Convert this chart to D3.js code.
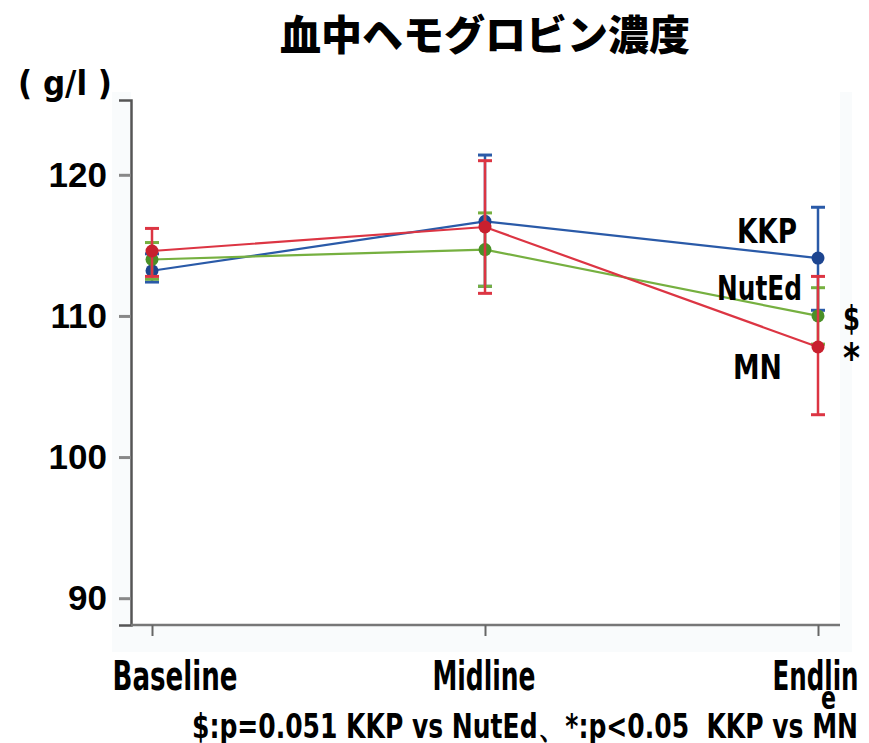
<!DOCTYPE html>
<html>
<head>
<meta charset="utf-8">
<script src="https://cdn.jsdelivr.net/npm/d3@7"></script>
<style>
  body { margin: 0; background: #fff; }
  .narrow { font-family: "DejaVu Sans Condensed", "DejaVu Sans", sans-serif; font-weight: bold; }
</style>
</head>
<body>
<svg class="chart"></svg>
<script>
// time points
var categories = ["Baseline", "Midline", "Endline"];

// group means + error bar ends (g/l)
var kkp     = [113.2, 116.7, 114.1];
var kkpLo   = [112.4, 112.1, 110.4];
var kkpHi   = [114.4, 121.4, 117.7];

var nutEd   = [114.0, 114.7, 110.0];
var nutEdLo = [112.6, 112.1, 108.0];
var nutEdHi = [115.2, 117.3, 112.0];

var mn      = [114.6, 116.3, 107.8];
var mnLo    = [112.8, 111.6, 103.0];
var mnHi    = [116.2, 121.0, 112.8];

var yTicks = [90, 100, 110, 120];

var groups = [
    {name: "KKP",   mean: kkp,   lo: kkpLo,   hi: kkpHi,   line: "#2a5aa8", dot: "#1d4590"},
    {name: "NutEd", mean: nutEd, lo: nutEdLo, hi: nutEdHi, line: "#76b040", dot: "#4a9028"},
    {name: "MN",    mean: mn,    lo: mnLo,    hi: mnHi,    line: "#dc3543", dot: "#c8202e"}
];

const canvas = {width: 869, height: 743};

const chart = d3.select(".chart")
    .attr("width", canvas.width)
    .attr("height", canvas.height);

const x = d3.scalePoint()
    .domain(categories)
    .range([152, 818]);

const y = d3.scaleLinear()
    .domain([88.1, 125.3])
    .range([625, 100]);

// faint panel behind the plot
chart.append("rect")
    .attr("x", 112).attr("y", 92)
    .attr("width", 740).attr("height", 560)
    .attr("fill", "#f9fbfc");
chart.append("rect")
    .attr("x", 131).attr("y", 92)
    .attr("width", 709).attr("height", 533)
    .attr("fill", "#ffffff");

// title
chart.append("text")
    .attr("x", 485).attr("y", 50)
    .attr("text-anchor", "middle")
    .style("font-family", "'Noto Sans CJK JP', sans-serif")
    .style("font-weight", "900")
    .style("font-size", "41px")
    .text("血中ヘモグロビン濃度");

// unit
chart.append("text")
    .attr("class", "narrow")
    .attr("x", 18).attr("y", 95)
    .attr("textLength", 94).attr("lengthAdjust", "spacingAndGlyphs")
    .style("font-size", "34px")
    .text("( g/l )");

// y axis
const yAxis = d3.axisLeft(y).tickValues(yTicks).tickSize(12).tickPadding(12);
const yG = chart.append("g")
    .attr("transform", "translate(131,0)")
    .call(yAxis);
yG.select(".domain").attr("stroke", "#555").attr("stroke-width", 2.5);
yG.selectAll(".tick line").attr("stroke", "#888").attr("stroke-width", 3);
yG.selectAll("text")
    .attr("fill", "#000")
    .style("font-family", "'Liberation Sans', Arial, sans-serif")
    .style("font-weight", "bold")
    .style("font-size", "35px");

// x axis
const xAxis = d3.axisBottom(x).tickSize(11).tickSizeOuter(0);
const xG = chart.append("g")
    .attr("transform", "translate(0,625)")
    .call(xAxis);
xG.select(".domain").attr("d", "M131,0H840").attr("stroke", "#777").attr("stroke-width", 2.5);
xG.selectAll(".tick line").attr("stroke", "#666").attr("stroke-width", 2);

// label placement relative to each tick: offset, width
const xLabelPos = {Baseline: [-40, 125], Midline: [-53, 103], Endline: [-46, 86]};
xG.selectAll("text")
    .attr("class", "narrow")
    .attr("fill", "#000")
    .attr("text-anchor", "start")
    .attr("x", d => xLabelPos[d][0])
    .attr("y", 65)
    .attr("dy", 0)
    .style("font-size", "40px")
    .attr("textLength", d => xLabelPos[d][1])
    .attr("lengthAdjust", "spacingAndGlyphs");
// last label wraps like in the original
xG.selectAll("text").filter(d => d === "Endline")
    .text("Endlin")
    .each(function() {
        d3.select(this.parentNode).append("text")
            .attr("class", "narrow")
            .attr("fill", "#000")
            .attr("x", 10).attr("y", 84)
            .attr("textLength", 15).attr("lengthAdjust", "spacingAndGlyphs")
            .style("font-size", "32px")
            .text("e");
    });

// error bars, lines, dots
const line = d3.line().x((d, i) => x(categories[i])).y(d => y(d));

groups.forEach(function(g) {
    const gg = chart.append("g").attr("class", "group-" + g.name);

    gg.append("path")
        .datum(g.mean)
        .attr("d", line)
        .attr("fill", "none")
        .attr("stroke", g.line)
        .attr("stroke-width", 2.2);

    categories.forEach(function(c, i) {
        const cx = x(c);
        gg.append("line")
            .attr("x1", cx).attr("x2", cx)
            .attr("y1", y(g.lo[i])).attr("y2", y(g.hi[i]))
            .attr("stroke", g.line).attr("stroke-width", 2.5);
        [g.lo[i], g.hi[i]].forEach(function(v) {
            gg.append("line")
                .attr("x1", cx - 7).attr("x2", cx + 7)
                .attr("y1", y(v)).attr("y2", y(v))
                .attr("stroke", g.line).attr("stroke-width", 3);
        });
    });

    gg.selectAll("circle")
        .data(g.mean)
        .enter().append("circle")
        .attr("cx", (d, i) => x(categories[i]))
        .attr("cy", d => y(d))
        .attr("r", 6.5)
        .attr("fill", g.dot);
});

// series labels near endline (left x, baseline y, width)
const labels = [
    {text: "KKP",   x: 737, y: 243, w: 60},
    {text: "NutEd", x: 717, y: 300, w: 85},
    {text: "MN",    x: 733, y: 379, w: 49},
    {text: "$",     x: 843, y: 330, w: 17},
    {text: "*",     x: 843, y: 372, w: 17}
];
chart.selectAll(".series-label")
    .data(labels)
    .enter().append("text")
    .attr("class", "series-label narrow")
    .attr("x", d => d.x).attr("y", d => d.y)
    .attr("textLength", d => d.w).attr("lengthAdjust", "spacingAndGlyphs")
    .style("font-size", d => d.text === "*" ? "40px" : "34px")
    .text(d => d.text);

// footnote
chart.append("text")
    .attr("class", "narrow")
    .attr("x", 192).attr("y", 738)
    .attr("textLength", 666).attr("lengthAdjust", "spacingAndGlyphs")
    .style("font-size", "33px")
    .style("white-space", "pre")
    .text("$:p=0.051 KKP vs NutEd、*:p<0.05  KKP vs MN");
</script>
</body>
</html>
